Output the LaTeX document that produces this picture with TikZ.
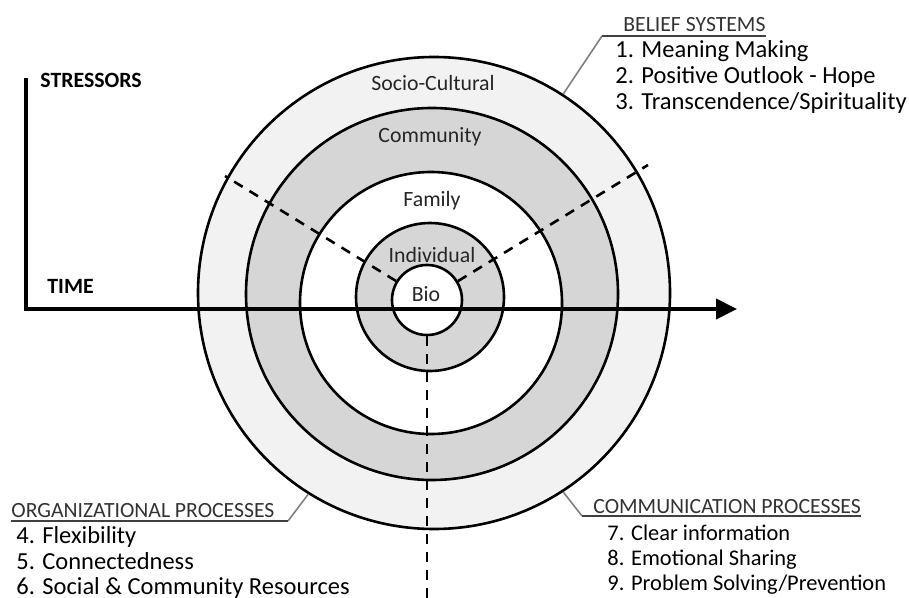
\documentclass[tikz,border=0pt]{standalone}
\usepackage{fontspec}
\setmainfont{Carlito}
\usepackage{tikz}
\usetikzlibrary{arrows.meta,positioning}

\tikzset{
  ring/.style={circle,draw,line width=1.3pt,inner sep=0pt},
  layer/.style={anchor=base,inner sep=0pt,font=\fontsize{10.9}{13}\selectfont,text=black!85},
  axislabel/.style={anchor=base west,inner sep=0pt,font=\bfseries\fontsize{10.9}{13}\selectfont},
  head/.style={anchor=base west,inner sep=0pt,font=\fontsize{10.85}{13}\selectfont,text=black!80},
  item/.style={anchor=base west,inner sep=0pt,font=\fontsize{12.25}{15}\selectfont},
  smallitem/.style={item,font=\fontsize{11.2}{14}\selectfont},
  leader/.style={draw=black!50,line width=0.8pt},
  uline/.style={draw=black!75,line width=0.6pt},
  split/.style={line width=1.3pt,dash pattern=on 5pt off 4pt},
  axis/.style={line width=2pt,-{Triangle[length=10.5pt,width=10pt]}}
}

\begin{document}
\begin{tikzpicture}[x=0.5pt,y=-0.5pt]
  \useasboundingbox (0,0) rectangle (909,598);

  \node[ring,fill=black!5,minimum size=236pt] (socio) at (434,293) {};
  \node[ring,fill=black!16,minimum size=186pt] (community) at (432,294) {};
  \node[ring,fill=white,minimum size=131pt] (family) at (431,303) {};
  \node[ring,fill=black!16,minimum size=74pt] (individual) at (430,297) {};
  \node[ring,fill=white,minimum size=35pt] (bio) at (427,300) {};

  \coordinate (stresstop) at (26,78);
  \coordinate (origin) at (26,309);
  \coordinate (timeend) at (737,309);
  \draw[axis] (stresstop) -- (origin) -- (timeend);
  \node[axislabel] (stressors) at (40,88) {STRESSORS};
  \node[axislabel] (time) at (47,294) {TIME};

  \coordinate (beliefend) at (225,176);
  \coordinate (commend) at (648,165);
  \coordinate (orgend) at (427,604);
  \draw[split] (bio) -- (beliefend);
  \draw[split] (bio) -- (commend);
  \draw[split] (bio) -- (orgend);

  \node[layer] (sociolabel) at (433,91) {Socio-Cultural};
  \node[layer] (communitylabel) at (430,143) {Community};
  \node[layer] (familylabel) at (432,207) {Family};
  \node[layer] (individuallabel) at (432,263) {Individual};
  \node[layer] (biolabel) at (426,302) {Bio};

  \node[head] (beliefhead) at (623,32) {BELIEF SYSTEMS};
  \node[item] (belief1) at (615,58) {1. Meaning Making};
  \node[item] (belief2) at (615,84) {2. Positive Outlook - Hope};
  \node[item] (belief3) at (615,110) {3. Transcendence/Spirituality};
  \coordinate (beliefcorner) at (602,36);
  \draw[leader] (socio.57) -- (beliefcorner);
  \draw[uline] (beliefcorner) -- (beliefcorner -| beliefhead.east);

  \node[head] (orghead) at (11,517) {ORGANIZATIONAL PROCESSES};
  \node[item] (org4) at (16,543) {4. Flexibility};
  \node[item] (org5) at (16,569) {5. Connectedness};
  \node[item] (org6) at (16,594) {6. Social \& Community Resources};
  \coordinate (orgcorner) at (288,521);
  \draw[leader] (socio.238) -- (orgcorner);
  \draw[uline] (orghead.west |- orgcorner) -- (orgcorner);

  \node[head] (commhead) at (593,513) {COMMUNICATION PROCESSES};
  \node[smallitem] (comm7) at (607,540) {7. Clear information};
  \node[smallitem] (comm8) at (607,565) {8. Emotional Sharing};
  \node[smallitem] (comm9) at (607,590) {9. Problem Solving/Prevention};
  \coordinate (commcorner) at (582,516);
  \draw[leader] (socio.303) -- (commcorner);
  \draw[uline] (commcorner) -- (commcorner -| commhead.east);
\end{tikzpicture}
\end{document}
